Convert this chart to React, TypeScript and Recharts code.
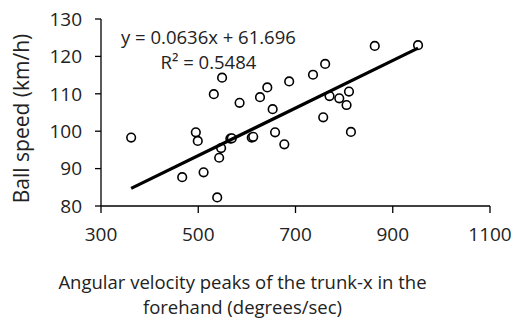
import { Label, Scatter, ScatterChart, XAxis, YAxis } from "recharts";

const FONT = "'Open Sans', 'DejaVu Sans', sans-serif";

// trunk-x angular velocity peak (deg/s) vs ball speed (km/h)
const trunkVelocity = [
  362, 495, 499, 467, 511, 539, 543, 547, 566, 569, 585, 610, 613, 653, 658, 677,
  549, 532, 627, 642, 863, 952, 761, 736, 687, 770, 790, 810, 805, 757, 814,
];
const ballSpeed = [
  98.3, 99.7, 97.4, 87.7, 89.0, 82.3, 92.9, 95.5, 98.0, 98.1, 107.6, 98.3, 98.5, 105.9, 99.7, 96.5,
  114.3, 109.9, 109.1, 111.7, 122.8, 123.0, 118.0, 115.1, 113.3, 109.4, 108.8, 110.6, 107.0, 103.7, 99.8,
];

// linear trendline endpoints: y = 0.0636x + 61.696
const trendX = [362, 952];
const trendY = [84.7, 122.2];

const xTicks = [300, 500, 700, 900, 1100];
const yTicks = [80, 90, 100, 110, 120, 130];

const points = trunkVelocity.map((x, i) => ({ x, y: ballSpeed[i] }));
const trend = trendX.map((x, i) => ({ x, y: trendY[i] }));

const OpenCircle = (props: any) => (
  <circle cx={props.cx} cy={props.cy} r={4.3} fill="#fff" stroke="#000" strokeWidth={1.6} />
);

const XTitle = (props: any) => {
  const vb = props.viewBox;
  const cx = vb.x + vb.width / 2 - 53;
  return (
    <text textAnchor="middle" fontFamily={FONT} fontSize={18.5} fill="#222">
      <tspan x={cx} y={vb.y + 83}>Angular velocity peaks of the trunk-x in the</tspan>
      <tspan x={cx} y={vb.y + 108}>forehand (degrees/sec)</tspan>
    </text>
  );
};

const YTitle = (props: any) => {
  const vb = props.viewBox;
  const x = 29;
  const y = vb.y + vb.height / 2 + 6;
  return (
    <text
      x={x}
      y={y}
      transform={`rotate(-90, ${x}, ${y})`}
      textAnchor="middle"
      fontFamily={FONT}
      fontSize={21}
      fill="#222"
    >
      Ball speed (km/h)
    </text>
  );
};

export default function App() {
  return (
    <div style={{ position: "absolute", left: 0, top: 0, width: 519, height: 325, background: "#fff" }}>
      <ScatterChart width={519} height={325} margin={{ top: 19, right: 29, bottom: 0, left: 0 }}>
        <XAxis
          type="number"
          dataKey="x"
          domain={[300, 1100]}
          ticks={xTicks}
          height={119}
          stroke="#000"
          strokeWidth={1.3}
          tickSize={7}
          tickMargin={15}
          tick={{ fill: "#222", fontSize: 19, fontFamily: FONT }}
          tickLine={{ stroke: "#000" }}
        >
          <Label content={<XTitle />} />
        </XAxis>
        <YAxis
          type="number"
          dataKey="y"
          domain={[80, 130]}
          ticks={yTicks}
          width={101}
          stroke="#000"
          strokeWidth={1.3}
          tickSize={6}
          tickMargin={13}
          tick={{ fill: "#222", fontSize: 19, fontFamily: FONT }}
        >
          <Label content={<YTitle />} />
        </YAxis>
        <Scatter data={points} shape={<OpenCircle />} isAnimationActive={false} />
        <Scatter
          data={trend}
          line={{ stroke: "#000", strokeWidth: 3.2 }}
          shape={() => null}
          isAnimationActive={false}
        />
      </ScatterChart>
      <div
        style={{
          position: "absolute",
          left: 121,
          top: 24,
          fontFamily: FONT,
          fontSize: 18.5,
          color: "#222",
          lineHeight: "25px",
          textAlign: "center",
          whiteSpace: "nowrap",
        }}
      >
        <div>y = 0.0636x + 61.696</div>
        <div>R² = 0.5484</div>
      </div>
    </div>
  );
}
